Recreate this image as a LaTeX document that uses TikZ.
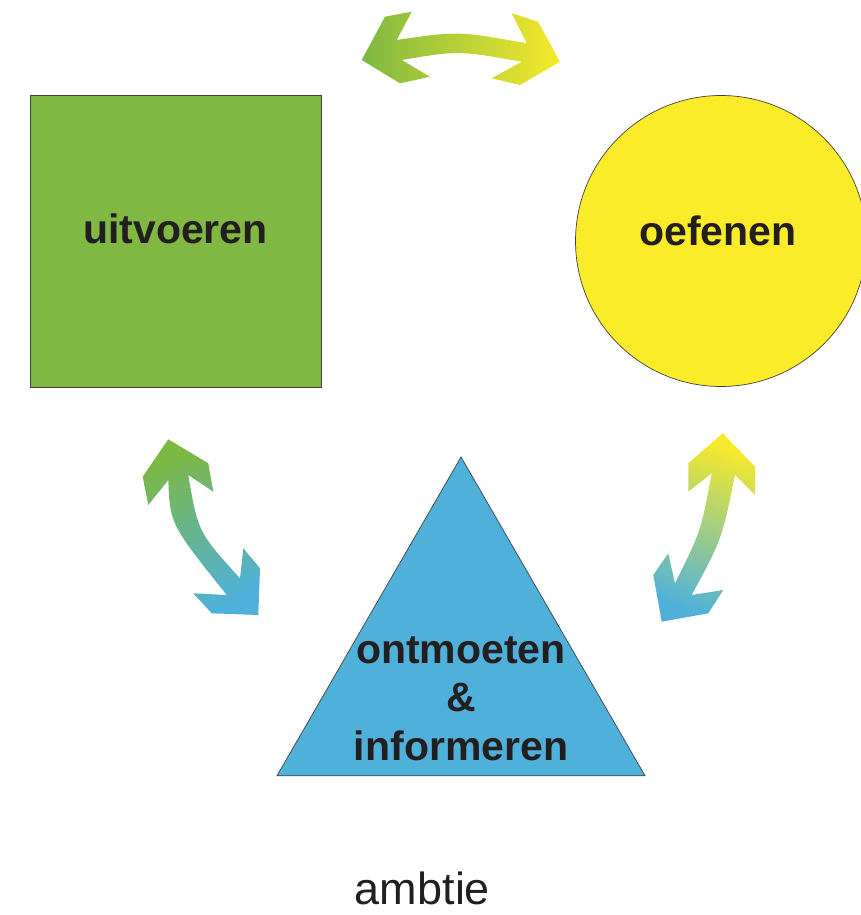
\documentclass[tikz,border=0pt]{standalone}
\usepackage{fontspec}
\setmainfont{Liberation Sans}
\usetikzlibrary{shapes.geometric}
\definecolor{sqgreen}{RGB}{128,184,67}
\definecolor{circyellow}{RGB}{250,236,41}
\definecolor{triblue}{RGB}{79,177,218}
\definecolor{arrgreen}{RGB}{125,184,67}
\definecolor{arryellow}{RGB}{245,233,43}
\definecolor{txtdark}{RGB}{35,31,32}
\tikzset{
  shapeline/.style={draw=black!75,line width=0.7pt,inner sep=0pt,outer sep=0pt},
  boldlabel/.style={text=txtdark,font=\fontsize{41}{48.5}\selectfont\bfseries,align=center},
}

\begin{document}
\begin{tikzpicture}[x=1pt,y=-1pt]
\useasboundingbox (0,0) rectangle (861,915);
% the three shapes
\node[shapeline,rectangle,fill=sqgreen,minimum width=291pt,minimum height=292pt] (uitv) at (175.5,241) {};
\node[shapeline,circle,fill=circyellow,minimum size=291pt] (oef) at (721,241) {};
\node[shapeline,regular polygon,regular polygon sides=3,fill=triblue,minimum size=425pt] (ontm) at (461,669.5) {};
% labels
\node[boldlabel,anchor=base] (uitvtxt) at (175.5,243) {uitvoeren};
\node[boldlabel,anchor=base] (oeftxt) at (718,245) {oefenen};
\node[boldlabel,anchor=base] (ontmtxt) at (461,760) {ontmoeten\\\&\\informeren};
\node[text=txtdark,font=\fontsize{45}{54}\selectfont,anchor=base] (ambt) at (422.5,904) {ambtie};
% top arrow
\shade[left color=arrgreen,right color=arryellow]
  (361.7,60) -- (385,16.7) -- (411.7,11.7) -- (396.7,40)
  .. controls (458,31) .. (526.7,43.3)
  -- (511.7,13.3) -- (538,21.7) -- (560,61.7) -- (520,85) -- (491.7,78.3) -- (521.7,61.7)
  .. controls (458.3,50.5) .. (401.7,60)
  -- (430,76.7) -- (400,83.3) -- cycle;
% left arrow
\shade[top color=arrgreen,bottom color=triblue,shading angle=25]
  (168.3,439.3) -- (208.3,463.3) -- (213.3,491.7) -- (188.3,475)
  .. controls (198,532) .. (240,578.3)
  -- (243.3,548.3) -- (260,568.3) -- (258.3,615) -- (211.7,613.3) -- (193.3,593.3) -- (226.7,595)
  .. controls (170,524) .. (168.3,480)
  -- (148.3,505) -- (142.7,476.7) -- cycle;
% right arrow
\shade[top color=arryellow,bottom color=triblue,shading angle=-20]
  (722.7,433.3) -- (755,466.7) -- (755,495) -- (735,475)
  .. controls (722,539) .. (691.7,595)
  -- (723.3,590) -- (708.3,613.3) -- (661.7,621.7) -- (653.3,575) -- (668.3,553.3) -- (675,583.3)
  .. controls (701,531) .. (711.7,473.3)
  -- (688.3,491.7) -- (688.3,463.3) -- cycle;
\end{tikzpicture}
\end{document}
